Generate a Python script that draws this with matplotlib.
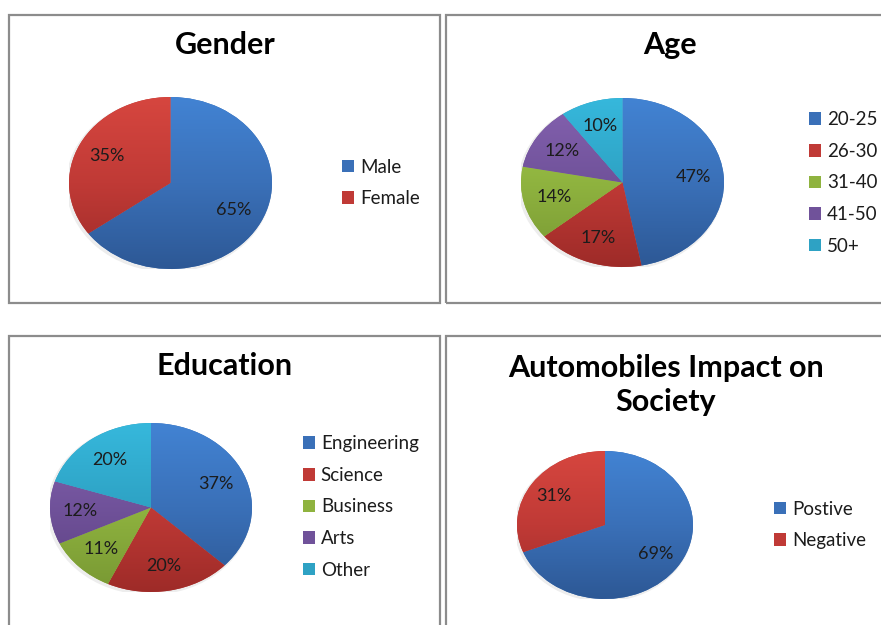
import numpy as np
import matplotlib
matplotlib.use("Agg")
import matplotlib.pyplot as plt
from matplotlib.colors import LinearSegmentedColormap
from matplotlib.patches import Rectangle, Ellipse

plt.rcParams['font.family'] = ['Lato', 'DejaVu Sans']

W, H = 881, 625

# data
gender_labels = ['Male', 'Female']
gender_values = [65, 35]

age_labels = ['20-25', '26-30', '31-40', '41-50', '50+']
age_values = [47, 17, 14, 12, 10]

edu_labels = ['Engineering', 'Science', 'Business', 'Arts', 'Other']
edu_values = [37, 20, 11, 12, 20]

impact_labels = ['Postive', 'Negative']
impact_values = [69, 31]

# (top, mid, bottom) shades, office style
palette = [
    ('#4283d3', '#3a70b8', '#2d5895'),   # blue
    ('#d6463f', '#c03a36', '#9e2b28'),   # red
    ('#a2cc4b', '#8fb33f', '#789833'),   # green
    ('#8562b0', '#70529a', '#5b3f80'),   # purple
    ('#36b8dc', '#2ea2c4', '#2787a8'),   # aqua
]

fig = plt.figure(figsize=(W / 100, H / 100), dpi=100)


def fig_rect(x, y, w, h):
    return [x / W, 1 - (y + h) / H, w / W, h / H]


# panel frames
for (x, y, w, h) in [(9, 15, 431, 288), (446, 15, 445, 288),
                     (9, 336, 431, 300), (446, 336, 445, 300)]:
    fig.patches.append(Rectangle((x / W, 1 - (y + h) / H), w / W, h / H,
                                 transform=fig.transFigure, fill=False,
                                 edgecolor='#8c8c8c', linewidth=1.6))


def draw_pie(bbox, values, labels, title_xy, title, legend_xy):
    ax = fig.add_axes(fig_rect(*bbox))
    cols = palette[:len(values)]
    # soft shadow
    ax.add_patch(Ellipse((-0.015, -0.02), 2.03, 2.03, facecolor='#ededed',
                         edgecolor='none', zorder=0))
    wedges, texts, autotexts = ax.pie(
        values, startangle=90, counterclock=False,
        colors=[c[1] for c in cols],
        autopct=lambda p: f'{p:.0f}%', pctdistance=0.7,
        wedgeprops=dict(linewidth=0),
        textprops=dict(fontsize=13, color='#1c1c1c'))
    grad = np.linspace(0, 1, 256).reshape(-1, 1)
    for wdg, c in zip(wedges, cols):
        cmap = LinearSegmentedColormap.from_list('g', [c[2], c[1], c[0]])
        im = ax.imshow(grad, extent=(-1, 1, -1, 1), origin='lower',
                       cmap=cmap, aspect='auto', zorder=1)
        im.set_clip_path(wdg)
    for t in autotexts:
        t.set_zorder(3)
    ax.set_aspect('auto')
    ax.set_xlim(-1, 1)
    ax.set_ylim(-1, 1)
    ax.axis('off')

    fig.text(title_xy[0] / W, 1 - title_xy[1] / H, title, ha='center',
             va='center', fontsize=22, fontweight='bold', linespacing=1.25)

    leg = fig.legend(wedges, labels, loc='center left',
                     bbox_to_anchor=(legend_xy[0] / W, 1 - legend_xy[1] / H),
                     frameon=False, fontsize=13.5, handlelength=0.65,
                     handleheight=0.65, handletextpad=0.3, labelspacing=0.78,
                     borderpad=0, borderaxespad=0)
    for t in leg.get_texts():
        t.set_color('#1c1c1c')


draw_pie((69, 97, 203, 172), gender_values, gender_labels,
         (225, 45), 'Gender', (342, 183))
draw_pie((521, 98, 203, 169), age_values, age_labels,
         (670, 45), 'Age', (809, 183))
draw_pie((50, 423, 202, 169), edu_values, edu_labels,
         (225, 366), 'Education', (303, 507))
draw_pie((517, 451, 176, 148), impact_values, impact_labels,
         (666, 385), 'Automobiles Impact on\nSociety', (774, 525))

fig.savefig('out.png', dpi=100)
